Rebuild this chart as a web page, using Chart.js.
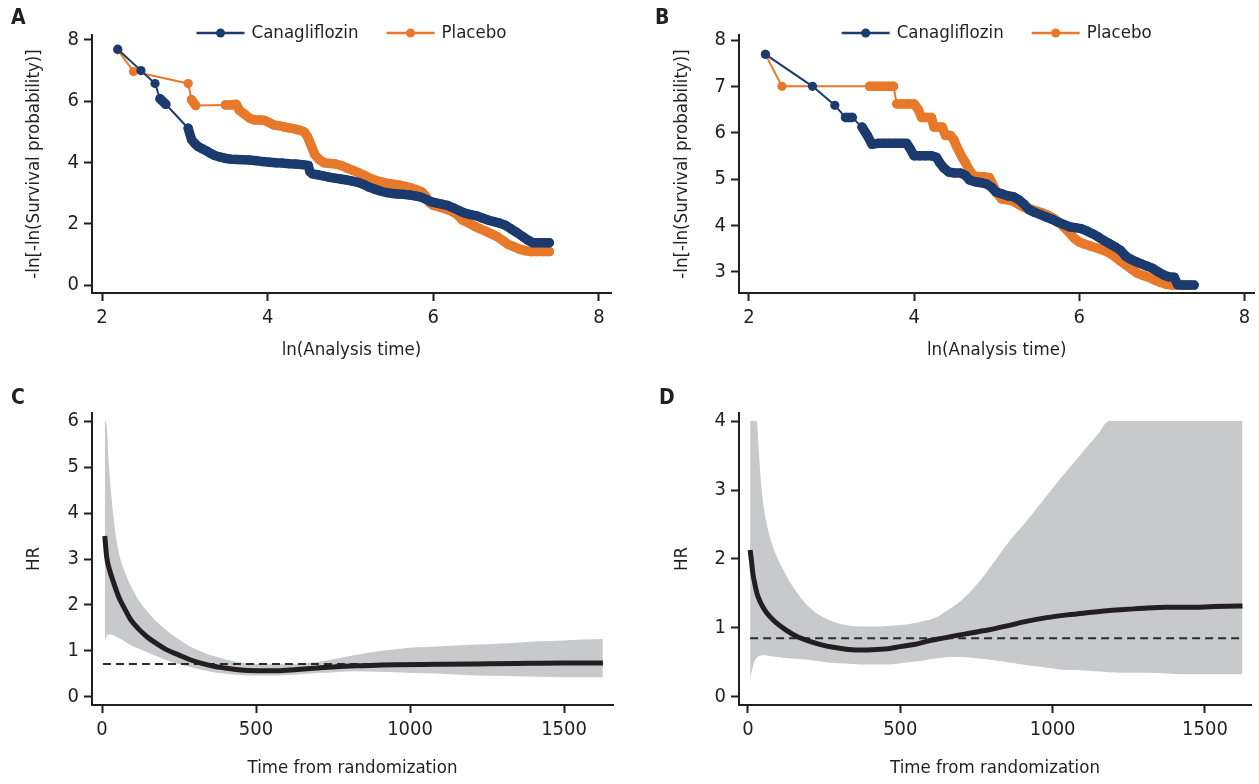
<!DOCTYPE html>
<html>
<head>
<meta charset="utf-8">
<script src="https://cdn.jsdelivr.net/npm/chart.js@4.4.0/dist/chart.umd.min.js"></script>
<style>
  body { margin: 0; background: #fff; }
  #page { position: relative; width: 1259px; height: 784px; overflow: hidden; background: #fff; }
  .panel { position: absolute; }
  .tag { position: absolute; font: bold 21px 'Liberation Sans Narrow', 'DejaVu Sans Condensed', sans-serif; color: #231f20; }
</style>
</head>
<body>
<div id="page">
  <div class="panel" style="left:0;top:0;width:629px;height:380px"><canvas id="chartA"></canvas></div>
  <div class="panel" style="left:630px;top:0;width:629px;height:380px"><canvas id="chartB"></canvas></div>
  <div class="panel" style="left:0;top:380px;width:629px;height:404px"><canvas id="chartC"></canvas></div>
  <div class="panel" style="left:630px;top:380px;width:629px;height:404px"><canvas id="chartD"></canvas></div>
  <div class="tag" style="left:11px;top:5px">A</div>
  <div class="tag" style="left:655px;top:5px">B</div>
  <div class="tag" style="left:11px;top:385px">C</div>
  <div class="tag" style="left:659px;top:385px">D</div>
</div>
<script>
const FONT = "'Liberation Sans Narrow', 'DejaVu Sans Condensed', sans-serif";
const INK = '#231f20';
const BLUE = '#1b3a6d';
const ORANGE = '#e8782a';
const BAND = '#c8c9cb';

// ---- Panel A: -ln[-ln(S)] vs ln(time)
const canaA_x = [2.19, 2.47, 2.64, 2.70, 2.77, 3.04, 3.08, 3.12, 3.16, 3.21, 3.26, 3.31, 3.36, 3.42, 3.48, 3.55,
  3.62, 3.70, 3.78, 3.86, 3.94, 4.02, 4.10, 4.18, 4.26, 4.34, 4.42, 4.49, 4.51, 4.54, 4.60, 4.67, 4.74, 4.81,
  4.88, 4.95, 5.02, 5.09, 5.16, 5.22, 5.29, 5.36, 5.43, 5.50, 5.57, 5.64, 5.71, 5.78, 5.85, 5.91, 5.97, 6.03,
  6.10, 6.17, 6.24, 6.31, 6.38, 6.45, 6.52, 6.59, 6.66, 6.73, 6.80, 6.87, 6.94, 7.01, 7.08, 7.14, 7.20, 7.27,
  7.34, 7.40];
const canaA_y = [7.70, 7.00, 6.58, 6.08, 5.90, 5.12, 4.75, 4.62, 4.52, 4.45, 4.38, 4.30, 4.23, 4.18, 4.14, 4.11,
  4.10, 4.09, 4.08, 4.06, 4.03, 4.01, 3.99, 3.98, 3.96, 3.95, 3.93, 3.90, 3.70, 3.63, 3.60, 3.56, 3.52, 3.49,
  3.46, 3.43, 3.39, 3.35, 3.28, 3.20, 3.13, 3.07, 3.02, 2.99, 2.97, 2.96, 2.94, 2.91, 2.87, 2.80, 2.72, 2.68,
  2.64, 2.60, 2.52, 2.43, 2.35, 2.30, 2.26, 2.19, 2.12, 2.07, 2.02, 1.95, 1.83, 1.71, 1.58, 1.47, 1.38, 1.38,
  1.38, 1.38];
const placA_x = [2.19, 2.38, 3.04, 3.08, 3.13, 3.49, 3.56, 3.62, 3.66, 3.72, 3.78, 3.84, 3.90, 3.96, 4.02, 4.08,
  4.14, 4.20, 4.26, 4.32, 4.38, 4.44, 4.48, 4.51, 4.54, 4.57, 4.62, 4.68, 4.75, 4.82, 4.89, 4.96, 5.03, 5.10,
  5.17, 5.24, 5.31, 5.38, 5.45, 5.52, 5.59, 5.66, 5.73, 5.80, 5.86, 5.91, 5.95, 6.00, 6.07, 6.14, 6.21, 6.28,
  6.35, 6.42, 6.49, 6.56, 6.63, 6.70, 6.77, 6.84, 6.90, 6.97, 7.04, 7.11, 7.18, 7.26, 7.33, 7.40];
const placA_y = [7.68, 6.97, 6.58, 6.05, 5.86, 5.88, 5.88, 5.90, 5.70, 5.58, 5.45, 5.39, 5.39, 5.38, 5.30, 5.22,
  5.20, 5.16, 5.13, 5.10, 5.06, 5.00, 4.85, 4.65, 4.45, 4.25, 4.10, 3.99, 3.97, 3.95, 3.90, 3.82, 3.74, 3.66,
  3.58, 3.48, 3.41, 3.36, 3.32, 3.29, 3.26, 3.22, 3.17, 3.11, 3.04, 2.90, 2.70, 2.60, 2.55, 2.49, 2.42, 2.32,
  2.12, 2.03, 1.93, 1.84, 1.76, 1.67, 1.58, 1.45, 1.33, 1.25, 1.17, 1.12, 1.09, 1.09, 1.09, 1.09];

// ---- Panel B
const canaB_x = [2.20, 2.77, 3.04, 3.17, 3.25, 3.37, 3.44, 3.49, 3.56, 3.63, 3.70, 3.77, 3.84, 3.91, 3.95, 4.00,
  4.07, 4.14, 4.21, 4.27, 4.31, 4.36, 4.42, 4.49, 4.56, 4.62, 4.67, 4.74, 4.81, 4.88, 4.94, 4.99, 5.06, 5.13,
  5.20, 5.27, 5.33, 5.39, 5.46, 5.53, 5.60, 5.67, 5.74, 5.81, 5.88, 5.95, 6.02, 6.09, 6.16, 6.23, 6.30, 6.37,
  6.44, 6.50, 6.56, 6.62, 6.68, 6.75, 6.82, 6.89, 6.95, 7.02, 7.08, 7.15, 7.19, 7.26, 7.33, 7.39];
const canaB_y = [7.69, 7.00, 6.59, 6.33, 6.33, 6.12, 5.92, 5.75, 5.77, 5.77, 5.77, 5.77, 5.77, 5.77, 5.66, 5.50,
  5.50, 5.50, 5.50, 5.47, 5.35, 5.24, 5.15, 5.13, 5.13, 5.08, 4.98, 4.94, 4.92, 4.89, 4.82, 4.72, 4.68, 4.64,
  4.62, 4.55, 4.46, 4.34, 4.28, 4.23, 4.18, 4.13, 4.07, 4.02, 3.97, 3.95, 3.93, 3.88, 3.82, 3.75, 3.67, 3.60,
  3.53, 3.46, 3.34, 3.27, 3.22, 3.17, 3.12, 3.07, 3.00, 2.93, 2.89, 2.88, 2.72, 2.71, 2.71, 2.71];
const placB_x = [2.20, 2.40, 3.46, 3.53, 3.60, 3.67, 3.75, 3.79, 3.86, 3.93, 4.00, 4.05, 4.09, 4.15, 4.21, 4.24,
  4.29, 4.34, 4.38, 4.44, 4.48, 4.51, 4.55, 4.58, 4.62, 4.66, 4.71, 4.77, 4.84, 4.91, 4.96, 5.01, 5.06, 5.13,
  5.20, 5.27, 5.34, 5.41, 5.48, 5.55, 5.62, 5.69, 5.76, 5.82, 5.88, 5.94, 6.00, 6.07, 6.14, 6.21, 6.28, 6.35,
  6.42, 6.49, 6.56, 6.63, 6.70, 6.77, 6.84, 6.91, 6.98, 7.05, 7.13, 7.20, 7.27, 7.34];
const placB_y = [7.69, 7.00, 7.00, 7.00, 7.00, 7.00, 7.00, 6.62, 6.62, 6.62, 6.62, 6.50, 6.33, 6.33, 6.33, 6.12,
  6.12, 6.12, 5.94, 5.94, 5.85, 5.72, 5.58, 5.47, 5.36, 5.22, 5.08, 5.05, 5.05, 5.03, 4.85, 4.68, 4.57, 4.55,
  4.52, 4.45, 4.38, 4.35, 4.31, 4.27, 4.22, 4.15, 4.06, 3.95, 3.84, 3.72, 3.64, 3.59, 3.55, 3.51, 3.47, 3.42,
  3.34, 3.24, 3.15, 3.06, 2.97, 2.92, 2.88, 2.82, 2.77, 2.73, 2.71, 2.71, 2.71, 2.71];

// ---- Panel C: time-varying HR with 95% band
const bandC_t = [9, 15, 22, 30, 40, 54, 75, 93, 120, 144, 175, 209, 250, 286, 330, 363, 400, 441, 505, 570, 634,
  698, 760, 827, 890, 956, 1020, 1085, 1150, 1214, 1280, 1342, 1420, 1497, 1560, 1626];
const upperC = [6.0, 5.9, 5.1, 4.4, 3.75, 3.15, 2.70, 2.42, 2.10, 1.88, 1.65, 1.45, 1.25, 1.10, 0.97, 0.89, 0.82,
  0.76, 0.72, 0.71, 0.72, 0.76, 0.83, 0.92, 0.99, 1.04, 1.08, 1.10, 1.12, 1.14, 1.16, 1.18, 1.21, 1.23, 1.25, 1.26];
const lowerC = [1.21, 1.32, 1.36, 1.36, 1.33, 1.28, 1.20, 1.13, 1.05, 0.98, 0.89, 0.80, 0.72, 0.65, 0.58, 0.54,
  0.51, 0.48, 0.47, 0.47, 0.49, 0.52, 0.54, 0.56, 0.55, 0.54, 0.52, 0.51, 0.49, 0.47, 0.46, 0.45, 0.44, 0.43,
  0.43, 0.43];
const hrC_t = [9, 15, 25, 35, 54, 75, 93, 120, 144, 175, 209, 250, 286, 330, 363, 400, 441, 505, 570, 634, 698,
  760, 827, 890, 956, 1085, 1214, 1342, 1497, 1626];
const hrC = [3.50, 3.05, 2.75, 2.54, 2.18, 1.90, 1.68, 1.47, 1.32, 1.17, 1.03, 0.91, 0.81, 0.72, 0.67, 0.63, 0.59,
  0.57, 0.57, 0.60, 0.63, 0.66, 0.68, 0.69, 0.70, 0.71, 0.72, 0.73, 0.74, 0.74];
const refC_t = [3, 1626];
const refC = [0.72, 0.72];

// ---- Panel D
const bandD_t = [7, 15, 22, 29, 35, 42, 50, 61, 75, 94, 115, 133, 165, 199, 230, 264, 300, 342, 400, 460, 520,
  578, 620, 656, 700, 735, 775, 813, 860, 918, 970, 1022, 1070, 1114, 1150, 1186, 1250, 1310, 1375, 1440, 1500,
  1560, 1623];
const upperD = [4.0, 4.0, 4.0, 4.0, 3.6, 3.15, 2.8, 2.52, 2.27, 2.04, 1.85, 1.70, 1.49, 1.31, 1.20, 1.12, 1.06,
  1.03, 1.02, 1.03, 1.05, 1.10, 1.16, 1.26, 1.40, 1.55, 1.76, 1.99, 2.27, 2.57, 2.86, 3.15, 3.40, 3.63, 3.82,
  4.0, 4.0, 4.0, 4.0, 4.0, 4.0, 4.0, 4.0];
const lowerD = [0.27, 0.42, 0.52, 0.57, 0.59, 0.60, 0.61, 0.60, 0.59, 0.58, 0.57, 0.56, 0.55, 0.54, 0.52, 0.50,
  0.49, 0.48, 0.47, 0.47, 0.50, 0.53, 0.56, 0.58, 0.58, 0.57, 0.55, 0.53, 0.50, 0.46, 0.43, 0.40, 0.39, 0.38,
  0.37, 0.36, 0.35, 0.35, 0.34, 0.33, 0.33, 0.33, 0.33];
const hrD_t = [7, 12, 16, 22, 29, 40, 55, 75, 94, 125, 159, 200, 238, 280, 329, 380, 421, 460, 499, 545, 591,
  635, 682, 735, 787, 850, 917, 980, 1048, 1110, 1179, 1245, 1310, 1375, 1440, 1530, 1623];
const hrD = [2.13, 1.95, 1.79, 1.65, 1.51, 1.38, 1.26, 1.15, 1.07, 0.97, 0.88, 0.81, 0.76, 0.72, 0.69, 0.68, 0.69,
  0.70, 0.73, 0.76, 0.81, 0.85, 0.89, 0.93, 0.97, 1.03, 1.10, 1.15, 1.19, 1.22, 1.25, 1.27, 1.29, 1.30, 1.30,
  1.31, 1.32];
const refD_t = [7, 1623];
const refD = [0.85, 0.85];

// tick labels
const lnTicks = [2, 4, 6, 8];
const yTicksA = [0, 2, 4, 6, 8];
const yTicksB = [3, 4, 5, 6, 7, 8];
const timeTicks = [0, 500, 1000, 1500];
const yTicksC = [0, 1, 2, 3, 4, 5, 6];
const yTicksD = [0, 1, 2, 3, 4];

const pts = (xs, ys) => xs.map((x, i) => ({ x: x, y: ys[i] }));

Chart.defaults.font.family = FONT;
Chart.defaults.color = INK;
Chart.defaults.animation = false;

// legend drawn as line + dot, like the original figure
const lineLegend = {
  id: 'lineLegend',
  afterDraw(chart, args, opts) {
    const { ctx, chartArea } = chart;
    const items = chart.data.datasets.filter(d => d.label);
    ctx.save();
    ctx.font = opts.size + 'px ' + FONT;
    ctx.textBaseline = 'middle';
    const widths = items.map(d => 48 + 7 + ctx.measureText(d.label).width);
    const gap = 28;
    const total = widths.reduce((a, b) => a + b, 0) + gap * (items.length - 1);
    let x = (chartArea.left + chartArea.right) / 2 - total / 2;
    items.forEach((d, i) => {
      ctx.strokeStyle = d.borderColor;
      ctx.lineWidth = 2.5;
      ctx.beginPath(); ctx.moveTo(x, opts.y); ctx.lineTo(x + 48, opts.y); ctx.stroke();
      ctx.fillStyle = d.pointBackgroundColor;
      ctx.beginPath(); ctx.arc(x + 24, opts.y, 4.5, 0, Math.PI * 2); ctx.fill();
      ctx.fillStyle = INK;
      ctx.fillText(d.label, x + 55, opts.y);
      x += widths[i] + gap;
    });
    ctx.restore();
  }
};

function axis(min, max, ticks, title, fitFn) {
  return {
    type: 'linear', min: min, max: max,
    afterBuildTicks: s => { s.ticks = ticks.map(v => ({ value: v })); },
    afterFit: fitFn,
    grid: { drawOnChartArea: false, drawTicks: true, tickLength: 8, tickColor: INK, tickWidth: 2 },
    border: { display: true, color: INK, width: 2 },
    ticks: { font: { size: 20 }, color: INK, padding: 5, autoSkip: false, maxRotation: 0,
      callback: v => String(v) },
    title: { display: true, text: title, font: { size: 18.5 }, color: INK, padding: { top: 23, bottom: 0 } }
  };
}

// dense runs of events merge into a thick band, sparse ones stay a thin line
const denseWidth = c => {
  const dx = c.p1.x - c.p0.x, dy = c.p1.y - c.p0.y;
  return Math.sqrt(dx * dx + dy * dy) < 13 ? 9.5 : 2;
};

function kmSeries(label, color, data) {
  return {
    label: label, data: data, borderColor: color, backgroundColor: color,
    pointBackgroundColor: color, pointBorderWidth: 0, pointRadius: 4.6,
    borderWidth: 2, borderCapStyle: 'round', borderJoinStyle: 'round', tension: 0, fill: false,
    segment: { borderWidth: denseWidth }
  };
}

function llChart(id, cana, plac, xr, yr, yTicks, pad) {
  new Chart(document.getElementById(id), {
    type: 'line',
    data: { datasets: [kmSeries('Canagliflozin', BLUE, cana), kmSeries('Placebo', ORANGE, plac)] },
    options: {
      responsive: true, maintainAspectRatio: false,
      layout: { padding: pad },
      plugins: { legend: { display: false }, tooltip: { enabled: false },
        lineLegend: { y: 33, size: 18.5 } },
      scales: {
        x: axis(xr[0], xr[1], lnTicks, 'ln(Analysis time)', s => { s.height = 68; }),
        y: axis(yr[0], yr[1], yTicks, '-ln[-ln(Survival probability)]', s => { s.width = pad.left ? 91 : 92; })
      }
    },
    plugins: [lineLegend]
  });
}

function hrChart(id, band_t, upper, lower, hr_t, hr, ref_t, ref, xr, yr, yTicks, pad) {
  new Chart(document.getElementById(id), {
    type: 'line',
    data: {
      datasets: [
        { data: pts(hr_t, hr), borderColor: INK, borderWidth: 5, pointRadius: 0,
          cubicInterpolationMode: 'monotone', fill: false, order: 1 },
        { data: pts(ref_t, ref), borderColor: '#2b2b2b', borderWidth: 2, borderDash: [8, 5],
          pointRadius: 0, fill: false, order: 2 },
        { data: pts(band_t, upper), borderWidth: 0, borderColor: BAND, backgroundColor: BAND,
          pointRadius: 0, cubicInterpolationMode: 'monotone', fill: '+1', order: 3 },
        { data: pts(band_t, lower), borderWidth: 0, borderColor: BAND, pointRadius: 0,
          cubicInterpolationMode: 'monotone', fill: false, order: 4 }
      ]
    },
    options: {
      responsive: true, maintainAspectRatio: false,
      layout: { padding: pad },
      plugins: { legend: { display: false }, tooltip: { enabled: false } },
      scales: {
        x: axis(xr[0], xr[1], timeTicks, 'Time from randomization', s => { s.height = 74; }),
        y: axis(yr[0], yr[1], yTicks, 'HR', s => { s.width = pad.left ? 91 : 92; })
      }
    }
  });
}

llChart('chartA', pts(canaA_x, canaA_y), pts(placA_x, placA_y), [1.879, 8.145], [-0.261, 8.163], yTicksA,
  { left: 0, top: 35, right: 18, bottom: 19 });
llChart('chartB', pts(canaB_x, canaB_y), pts(placB_x, placB_y), [1.88, 8.12], [2.54, 8.108], yTicksB,
  { left: 18, top: 35, right: 3, bottom: 19 });
hrChart('chartC', bandC_t, upperC, lowerC, hrC_t, hrC, refC_t, refC, [-32.5, 1659], [-0.174, 6.174], yTicksC,
  { left: 0, top: 33, right: 16, bottom: 5 });
hrChart('chartD', bandD_t, upperD, lowerD, hrD_t, hrD, refD_t, refD, [-29.5, 1651], [-0.116, 4.116], yTicksD,
  { left: 18, top: 33, right: 8, bottom: 5 });
</script>
</body>
</html>
